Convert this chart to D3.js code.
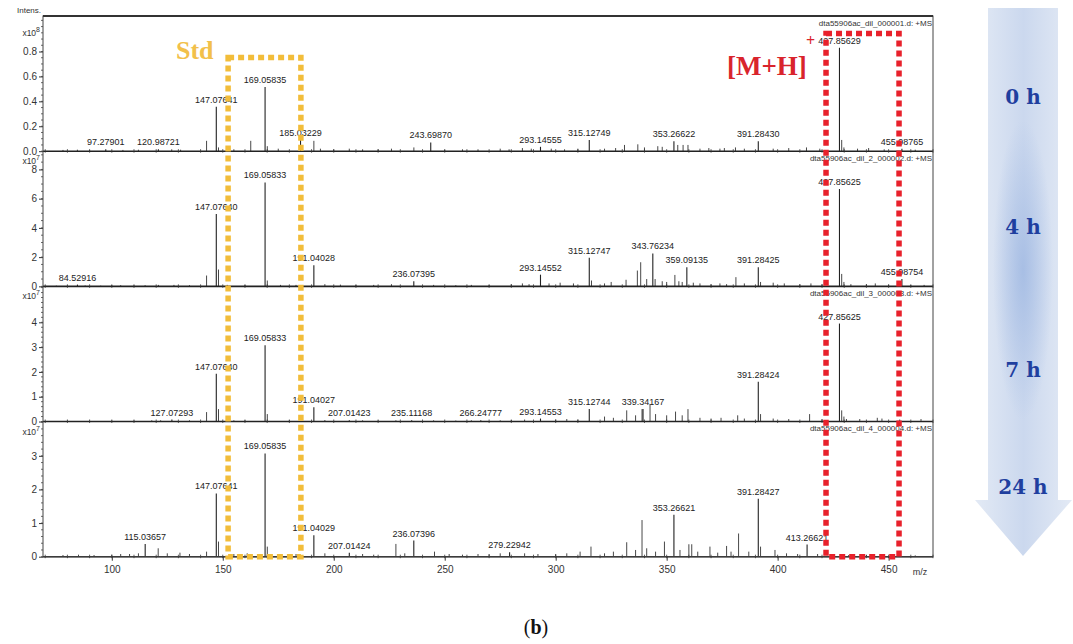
<!DOCTYPE html>
<html><head><meta charset="utf-8">
<script src="https://cdn.jsdelivr.net/npm/d3@7"></script>
<style>body{margin:0;background:#fff}svg{display:block}</style>
</head><body><svg id="c" width="1073" height="644"></svg>
<script>
// ---------- DATA ----------
const mzDomain = [69, 470];
const xTickValues = [100, 150, 200, 250, 300, 350, 400, 450];
const timeLabels = ["0 h", "4 h", "7 h", "24 h"];
const fileNames = [
  "dta55906ac_dil_000001.d: +MS",
  "dta55906ac_dil_2_000002.d: +MS",
  "dta55906ac_dil_3_000003.d: +MS",
  "dta55906ac_dil_4_000004.d: +MS"
];
const yMaxima = [1.085, 9.25, 5.45, 4.02];
const yTickValues = [[0, 0.2, 0.4, 0.6, 0.8], [0, 2, 4, 6, 8], [0, 1, 2, 3, 4], [0, 1, 2, 3]];
const yTickFormats = [".1f", "d", "d", "d"];
const yMinorSteps = [0.05, 0.5, 0.2, 0.2];
const yExponents = ["8", "7", "7", "7"];

// unlabeled peaks [m/z, intensity]
const peaks0 = [[78,0.01],[84.5,0.012],[90,0.01],[105,0.01],[112,0.012],[127,0.015],[131,0.012],[142.7,0.083],[148.08,0.03],[155,0.015],[162.6,0.083],[170.06,0.04],[175,0.02],[191.04,0.083],[194,0.02],[200,0.015],[207,0.02],[213,0.015],[220,0.015],[226,0.02],[236.1,0.03],[250,0.012],[258,0.015],[265,0.015],[275,0.02],[279,0.015],[285,0.025],[289,0.02],[298,0.02],[304,0.015],[310,0.02],[322,0.02],[327,0.025],[331,0.05],[337,0.055],[340,0.03],[346,0.04],[348,0.035],[355,0.05],[357.4,0.05],[359.6,0.05],[365,0.02],[369,0.025],[374,0.02],[376,0.025],[381,0.03],[385,0.02],[398,0.02],[405,0.025],[413,0.03],[419,0.02],[428.86,0.09],[429.86,0.03],[436,0.02],[441,0.025],[448,0.015],[462,0.012]];
const peaks1 = [[75,0.05],[80,0.05],[88,0.06],[95,0.05],[100,0.08],[104,0.08],[110,0.06],[115,0.08],[121,0.1],[128,0.1],[135,0.08],[142.7,0.74],[148.08,1.15],[152,0.1],[160,0.1],[170.06,0.4],[176,0.1],[183,0.1],[196,0.15],[203,0.12],[210,0.1],[218,0.1],[226,0.15],[245,0.1],[255,0.08],[262,0.1],[270,0.1],[280,0.15],[285,0.2],[288,0.15],[297,0.2],[302,0.25],[308,0.2],[316.13,0.4],[322,0.2],[325,0.3],[331.7,0.45],[336.8,1.08],[338.3,1.65],[341,0.5],[344.8,0.5],[348,0.35],[350,0.3],[353.7,0.78],[355.5,0.35],[357,0.3],[362,0.25],[365,0.2],[370,0.15],[374,0.2],[377,0.15],[381.2,0.63],[385,0.2],[392.3,0.3],[398,0.25],[403,0.2],[410,0.15],[415,0.2],[420,0.15],[428.86,0.85],[429.86,0.3],[433,0.15],[440,0.15],[444,0.2],[450,0.12],[460,0.1],[466,0.1]];
const peaks2 = [[80,0.03],[90,0.03],[100,0.04],[110,0.04],[118,0.05],[122,0.05],[135,0.05],[142.7,0.38],[148.08,0.5],[155,0.05],[160,0.05],[170.06,0.3],[180,0.05],[196,0.06],[213,0.05],[220,0.04],[228,0.05],[245,0.05],[255,0.04],[262,0.05],[275,0.05],[280,0.06],[286,0.08],[300,0.08],[305,0.1],[310,0.08],[322,0.2],[326,0.15],[332,0.45],[336,0.25],[338.9,0.5],[342.5,0.7],[345,0.3],[350,0.25],[354,0.4],[357,0.25],[359.6,0.5],[365,0.15],[370,0.12],[374.5,0.15],[382,0.25],[385,0.12],[392.3,0.3],[398,0.12],[405,0.1],[414.4,0.3],[420,0.1],[428.86,0.45],[429.86,0.2],[431,0.1],[437,0.1],[444.9,0.15],[447,0.12],[455,0.08],[464.6,0.1]];
const peaks3 = [[78,0.05],[85,0.06],[92,0.05],[100,0.06],[104,0.08],[108,0.08],[112,0.1],[120.9,0.25],[125,0.1],[130.7,0.12],[135,0.08],[142.7,0.15],[148.08,0.45],[155,0.08],[161,0.1],[170.06,0.3],[176,0.08],[183,0.08],[196,0.1],[213,0.08],[218,0.06],[228,0.38],[232,0.1],[245.4,0.15],[252,0.08],[258,0.06],[265,0.08],[270,0.08],[275,0.1],[286,0.1],[292,0.08],[300,0.08],[305,0.1],[311,0.15],[315.9,0.3],[322,0.1],[326,0.15],[332,0.43],[336,0.2],[338.9,1.09],[341,0.25],[345,0.15],[349,0.45],[356,0.2],[360,0.37],[361.3,0.37],[364,0.15],[369.5,0.3],[373,0.12],[377,0.32],[379,0.15],[382.4,0.69],[387,0.15],[392.3,0.3],[398.8,0.2],[404,0.1],[409,0.08],[418,0.08],[425,0.06],[432,0.05],[440,0.05],[447,0.06],[455,0.05],[462,0.04]];

// labeled peaks [m/z, intensity, label]
const labeled0 = [[97.28,0.016,"97.27901"],[120.99,0.016,"120.98721"],[147.08,0.356,"147.07641"],[169.06,0.515,"169.05835"],[185.03,0.09,"185.03229"],[243.7,0.07,"243.69870"],[293.15,0.035,"293.14555"],[315.13,0.09,"315.12749"],[353.27,0.08,"353.26622"],[391.28,0.08,"391.28430"],[427.86,0.83,"427.85629"],[455.99,0.02,"455.98765"]];
const labeled1 = [[84.53,0.12,"84.52916"],[147.08,4.95,"147.07640"],[169.06,7.11,"169.05833"],[191.04,1.45,"191.04028"],[236.07,0.35,"236.07395"],[293.15,0.8,"293.14552"],[315.13,1.95,"315.12747"],[343.76,2.25,"343.76234"],[359.09,1.3,"359.09135"],[391.28,1.3,"391.28425"],[427.86,6.66,"427.85625"],[455.99,0.5,"455.98754"]];
const labeled2 = [[127.07,0.08,"127.07293"],[147.08,1.93,"147.07640"],[169.06,3.08,"169.05833"],[191.04,0.58,"191.04027"],[207.01,0.05,"207.01423"],[235.11,0.05,"235.11168"],[266.25,0.05,"266.24777"],[293.15,0.12,"293.14553"],[315.13,0.5,"315.12744"],[339.34,0.5,"339.34167"],[391.28,1.6,"391.28424"],[427.86,3.95,"427.85625"]];
const labeled3 = [[115.04,0.38,"115.03657"],[147.08,1.88,"147.07641"],[169.06,3.07,"169.05835"],[191.04,0.64,"191.04029"],[207.01,0.12,"207.01424"],[236.07,0.48,"236.07396"],[279.23,0.13,"279.22942"],[353.27,1.25,"353.26621"],[391.28,1.72,"391.28427"],[413.27,0.36,"413.26621"]];

const stdBoxMz = [152.4, 185.2], stdBoxTop = 0.752;   // top in panel-0 units
const mhBoxMz = [421.8, 454.7], mhBoxTop = 0.944;

// ---------- LAYOUT ----------
const svg = d3.select("#c");
const L = 43, R = 933, T = 16, B = 556.7;
const panelH = (B - T) / 4;
const x = d3.scaleLinear().domain(mzDomain).range([L, R]);
const allPeaks = [peaks0, peaks1, peaks2, peaks3];
const allLabeled = [labeled0, labeled1, labeled2, labeled3];
const font = "'Liberation Sans', Arial, sans-serif";

const ys = [];
for (let i = 0; i < 4; i++) {
  const top = T + i * panelH, bot = top + panelH;
  const y = d3.scaleLinear().domain([0, yMaxima[i]]).range([bot, top]);
  ys.push(y);
  const g = svg.append("g");
  g.selectAll("line.pk").data(allPeaks[i]).join("line")
    .attr("x1", d => x(d[0])).attr("x2", d => x(d[0]))
    .attr("y1", y(0)).attr("y2", d => y(d[1]))
    .attr("stroke", "#333").attr("stroke-width", 0.9);
  g.selectAll("line.lp").data(allLabeled[i]).join("line")
    .attr("x1", d => x(d[0])).attr("x2", d => x(d[0]))
    .attr("y1", y(0)).attr("y2", d => y(d[1]))
    .attr("stroke", "#222").attr("stroke-width", 1.1);
  g.selectAll("text.lb").data(allLabeled[i]).join("text")
    .attr("x", d => x(d[0])).attr("y", d => y(d[1]) - 4)
    .attr("text-anchor", "middle").attr("font-family", font)
    .attr("font-size", 9).attr("fill", "#222").text(d => d[2]);
  const ax = d3.axisLeft(y).tickValues(yTickValues[i]).tickSize(4).tickFormat(d3.format(yTickFormats[i]));
  const ag = g.append("g").attr("transform", `translate(${L},0)`).call(ax);
  ag.select(".domain").remove();
  ag.selectAll("text").attr("font-family", font).attr("font-size", 10).attr("fill", "#333").attr("dx", 1);
  ag.selectAll("line").attr("stroke", "#333");
  const minors = d3.range(0, yMaxima[i], yMinorSteps[i]);
  g.selectAll("line.mn").data(minors).join("line")
    .attr("x1", L - 2).attr("x2", L).attr("y1", d => y(d)).attr("y2", d => y(d))
    .attr("stroke", "#444").attr("stroke-width", 0.8);
  g.append("line").attr("x1", L).attr("x2", R).attr("y1", y(0)).attr("y2", y(0))
    .attr("stroke", "#222").attr("stroke-width", 1.6);
  g.selectAll("line.bt").data(d3.range(70, 471, 10)).join("line")
    .attr("x1", d => x(d)).attr("x2", d => x(d)).attr("y1", y(0) - 2).attr("y2", y(0) + 1.5)
    .attr("stroke", "#333").attr("stroke-width", 0.8);
  const ex = g.append("text").attr("x", 40).attr("y", i === 0 ? top + 20 : top + 13)
    .attr("text-anchor", "end").attr("font-family", font).attr("font-size", 8.5).attr("fill", "#333");
  ex.append("tspan").text("x10");
  ex.append("tspan").attr("dy", -4).attr("font-size", 7).text(yExponents[i]);
  g.append("text").attr("x", R - 1).attr("y", top + 9.5).attr("text-anchor", "end")
    .attr("font-family", font).attr("font-size", 8).attr("fill", "#333").text(fileNames[i]);
}
svg.append("text").attr("x", 41).attr("y", 13).attr("text-anchor", "end")
  .attr("font-family", font).attr("font-size", 8).attr("fill", "#333").text("Intens.");

svg.append("rect").attr("x", L).attr("y", T).attr("width", R - L).attr("height", B - T)
  .attr("fill", "none").attr("stroke", "#444").attr("stroke-width", 1);
svg.append("line").attr("x1", L).attr("x2", R).attr("y1", T).attr("y2", T).attr("stroke", "#333").attr("stroke-width", 1.8);

const xa = svg.append("g").attr("transform", `translate(0,${B})`)
  .call(d3.axisBottom(x).tickValues(xTickValues).tickSize(4).tickFormat(d3.format("d")));
xa.select(".domain").remove();
xa.selectAll("text").attr("font-family", font).attr("font-size", 10).attr("fill", "#333").attr("dy", "0.9em");
xa.selectAll("line").attr("stroke", "#333");
svg.append("text").attr("x", 920).attr("y", B + 18).attr("text-anchor", "middle")
  .attr("font-family", font).attr("font-size", 9).attr("fill", "#333").text("m/z");

const yTop0 = ys[0], yBot = ys[3](0);
svg.append("rect").attr("x", x(stdBoxMz[0])).attr("y", yTop0(stdBoxTop))
  .attr("width", x(stdBoxMz[1]) - x(stdBoxMz[0])).attr("height", yBot - yTop0(stdBoxTop))
  .attr("fill", "none").attr("stroke", "#f2bd3a").attr("stroke-width", 5.5).attr("stroke-dasharray", "6 4");
svg.append("rect").attr("x", x(mhBoxMz[0])).attr("y", yTop0(mhBoxTop))
  .attr("width", x(mhBoxMz[1]) - x(mhBoxMz[0])).attr("height", yBot - yTop0(mhBoxTop))
  .attr("fill", "none").attr("stroke", "#e8212b").attr("stroke-width", 5.5).attr("stroke-dasharray", "6 4");
const serif = "'Liberation Serif', 'DejaVu Serif', serif";
svg.append("text").attr("x", 176).attr("y", 59).attr("font-family", serif).attr("font-weight", "bold")
  .attr("font-size", 26).attr("fill", "#f2c04a").text("Std");
svg.append("text").attr("x", 727).attr("y", 75).attr("font-family", serif).attr("font-weight", "bold")
  .attr("font-size", 27).attr("fill", "#d9242c").text("[M+H]");
svg.append("text").attr("x", 806).attr("y", 46).attr("font-family", serif).attr("font-weight", "bold")
  .attr("font-size", 16).attr("fill", "#d9242c").text("+");

const defs = svg.append("defs");
const lg = defs.append("linearGradient").attr("id", "sh").attr("x1", "0").attr("x2", "1").attr("y1", "0").attr("y2", "0");
lg.append("stop").attr("offset", "0").attr("stop-color", "#e3eaf5");
lg.append("stop").attr("offset", "0.5").attr("stop-color", "#cbd8ee");
lg.append("stop").attr("offset", "1").attr("stop-color", "#e3eaf5");
const rg = defs.append("radialGradient").attr("id", "gl");
rg.append("stop").attr("offset", "0").attr("stop-color", "#9fb8e2").attr("stop-opacity", 0.8);
rg.append("stop").attr("offset", "1").attr("stop-color", "#9fb8e2").attr("stop-opacity", 0);
const arrowG = svg.append("g");
arrowG.append("path").attr("d", "M988,8 L1058,8 L1058,500 L1072,500 L1023,556 L975,500 L988,500 Z").attr("fill", "url(#sh)");
arrowG.append("ellipse").attr("cx", 1023).attr("cy", 270).attr("rx", 30).attr("ry", 150).attr("fill", "url(#gl)");
const tY = [97, 227, 370, 487];
arrowG.selectAll("text").data(timeLabels).join("text")
  .attr("x", 1023).attr("y", (d, i) => tY[i] + 7).attr("text-anchor", "middle")
  .attr("font-family", "'DejaVu Serif', serif").attr("font-weight", "bold").attr("font-size", 20)
  .attr("fill", "#1f3f9f").text(d => d);

const cap = svg.append("text").attr("x", 536).attr("y", 634).attr("text-anchor", "middle")
  .attr("font-family", serif).attr("font-size", 20).attr("fill", "#111");
cap.append("tspan").text("(");
cap.append("tspan").attr("font-weight", "bold").text("b");
cap.append("tspan").text(")");
</script></body></html>
